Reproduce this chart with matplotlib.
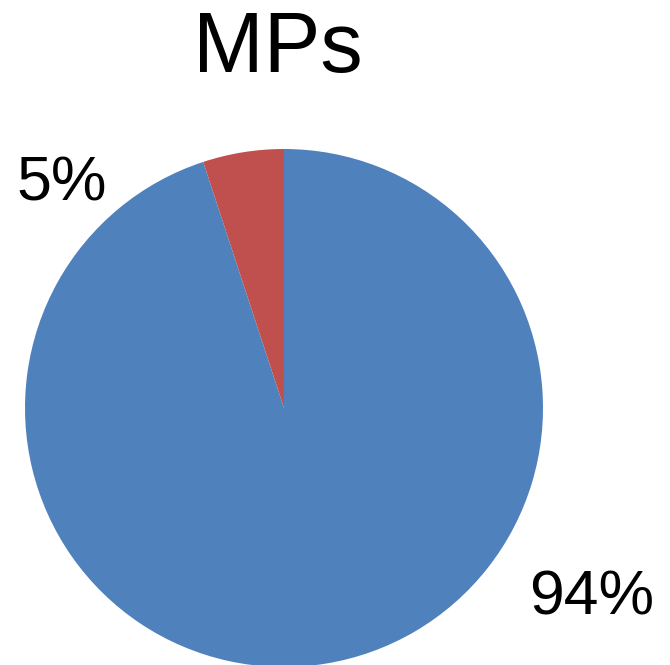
import matplotlib
matplotlib.use("Agg")
import matplotlib.pyplot as plt

plt.rcParams["font.family"] = ["Liberation Sans", "DejaVu Sans"]

# slices, clockwise from 12 o'clock
shares = [94, 5]
share_labels = ["94%", "5%"]
colors = ["#4F81BD", "#C0504D"]

fig = plt.figure(figsize=(6.7, 6.65), dpi=100)
ax = fig.add_axes([25 / 670, -2 / 665, 518 / 670, 518 / 665])
ax.pie(shares, colors=colors, startangle=90, counterclock=False,
       radius=1.0, wedgeprops=dict(linewidth=0))
ax.set_xlim(-1, 1)
ax.set_ylim(-1, 1)
ax.set_aspect("equal")
ax.axis("off")

fig.text(278 / 670, 1 - 50 / 665, "MPs", fontsize=61, ha="center", va="center")
fig.text(592 / 670, 1 - 598 / 665, share_labels[0], fontsize=45, ha="center", va="center")
fig.text(62 / 670, 1 - 184 / 665, share_labels[1], fontsize=45, ha="center", va="center")

fig.savefig("out.png", dpi=100)
